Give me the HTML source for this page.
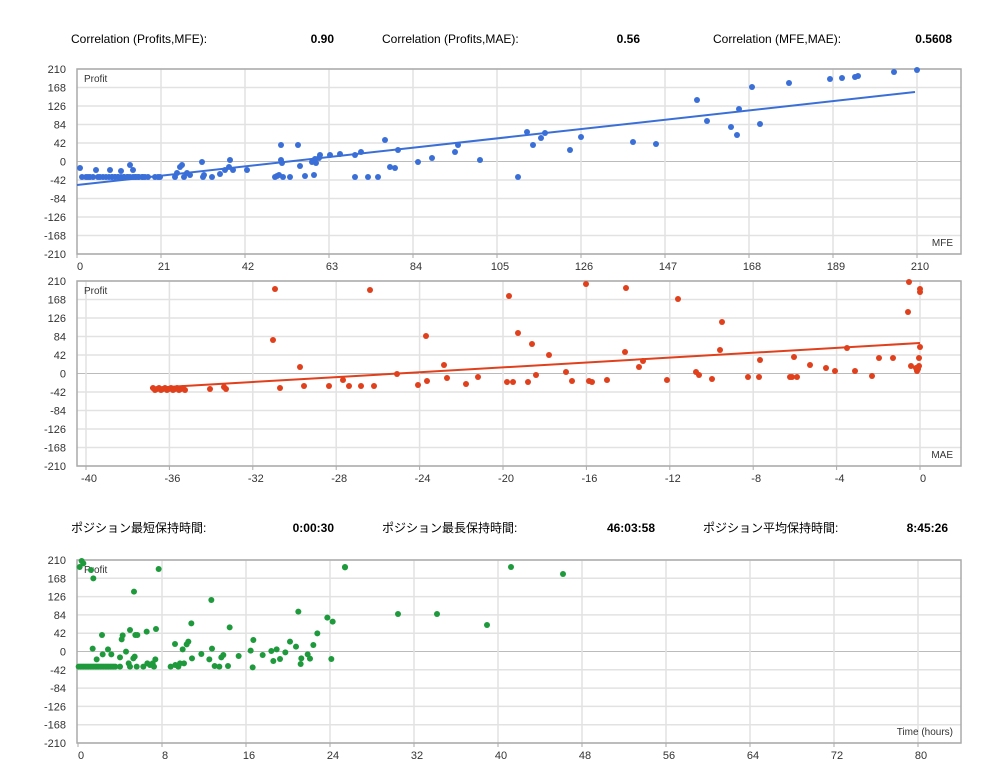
<!DOCTYPE html>
<html><head><meta charset="utf-8"><style>
body{margin:0;background:#fff;width:1007px;height:776px;overflow:hidden;font-family:"Liberation Sans","Noto Sans CJK JP",sans-serif}
svg text{font-family:"Liberation Sans","Noto Sans CJK JP",sans-serif}
</style></head><body>
<svg id="s" width="1007" height="776" xmlns="http://www.w3.org/2000/svg">
<g font-size="12" fill="#000">
<text x="71" y="43">Correlation (Profits,MFE):</text><text x="334" y="43" text-anchor="end" font-weight="bold">0.90</text>
<text x="382" y="43">Correlation (Profits,MAE):</text><text x="640" y="43" text-anchor="end" font-weight="bold">0.56</text>
<text x="713" y="43">Correlation (MFE,MAE):</text><text x="952" y="43" text-anchor="end" font-weight="bold">0.5608</text>
<text x="71" y="532">ポジション最短保持時間:</text><text x="334" y="532" text-anchor="end" font-weight="bold">0:00:30</text>
<text x="382" y="532">ポジション最長保持時間:</text><text x="655" y="532" text-anchor="end" font-weight="bold">46:03:58</text>
<text x="703" y="532">ポジション平均保持時間:</text><text x="948" y="532" text-anchor="end" font-weight="bold">8:45:26</text>
</g>
</svg>
<script>
const S=document.getElementById('s');let h='';
function chart(top,bot,x0,step,xl,lab,xt){
 const L=77,R=961;
 for(let i=0;i<=10;i++){const y=top+(bot-top)*i/10;h+=`<line x1="${L}" x2="${R}" y1="${y}" y2="${y}" stroke="${i==5?'#bbb':'#e2e2e2'}" stroke-width="${i==5?1:1.5}"/>`;
 h+=`<text x="${L-11}" y="${y+4}" font-size="11" fill="#333" text-anchor="end">${210-42*i}</text>`;}
 xl.forEach((t,i)=>{const x=x0+step*i;if(x>L+2)h+=`<line x1="${x}" x2="${x}" y1="${top}" y2="${bot}" stroke="#e2e2e2" stroke-width="1.5"/>`;
 h+=`<line x1="${x}" x2="${x}" y1="${bot}" y2="${bot+4}" stroke="#aaa"/><text x="${x+3}" y="${bot+16}" font-size="11" fill="#333" text-anchor="middle">${t}</text>`;});
 h+=`<rect x="${L}" y="${top}" width="${R-L}" height="${bot-top}" fill="none" stroke="#aaa" stroke-width="1.5"/>`;
 h+=`<text x="84" y="${top+13}" font-size="10" fill="#333">Profit</text><text x="953" y="${bot-8}" font-size="10" fill="#333" text-anchor="end">${lab}</text>`;
}
function dots(p,c){p.forEach(q=>h+=`<circle cx="${q[0]}" cy="${q[1]}" r="3" fill="${c}"/>`);}
chart(69,254,77,84,[0,21,42,63,84,105,126,147,168,189,210],'MFE');
chart(281,466,86,83.4,[-40,-36,-32,-28,-24,-20,-16,-12,-8,-4,0],'MAE');
chart(560,743,78,84,[0,8,16,24,32,40,48,56,64,72,80],'Time (hours)');
let b=[[80,168],[82,177],[86,177],[90,177],[93,177],[96,170],[98,177],[88,177],[110,170],[112,177],[115,177],[118,177],[121,171],[124,177],[128,177],[130,165],[133,170],[135,177],[138,177],[143,177],[155,177],[160,177],[158,177],[175,177],[177,173],[180,167],[182,165],[184,177],[187,173],[190,175],[202,162],[203,177],[204,175],[212,177],[220,174],[225,170],[229,167],[230,160],[233,170],[247,170],[275,177],[277,176],[279,175],[281,145],[281,160],[282,163],[283,177],[290,177],[298,145],[300,166],[305,176],[312,162],[315,159],[314,175],[316,163],[319,158],[320,155],[330,155],[340,154],[355,177],[355,155],[361,152],[368,177],[378,177],[385,140],[390,167],[395,168],[398,150],[418,162],[432,158],[455,152],[458,145],[480,160],[518,177],[527,132],[533,145],[541,138],[545,133],[570,150],[581,137],[633,142],[656,144],[697,100],[707,121],[731,127],[737,135],[739,109],[752,87],[760,124],[789,83],[830,79],[842,78],[855,77],[858,76],[894,72],[917,70]];
for(let x=100;x<150;x+=3)b.push([x,177]);
h+=`<line x1="77" y1="185" x2="915" y2="92" stroke="#3a6fd8" stroke-width="2"/>`;dots(b,'#3a6fd8');
let r=[[210,389],[224,387],[226,389],[273,340],[275,289],[280,388],[300,367],[304,386],[329,386],[343,380],[349,386],[361,386],[370,290],[374,386],[397,374],[418,385],[426,336],[427,381],[444,365],[447,378],[466,384],[478,377],[507,382],[509,296],[513,382],[518,333],[528,382],[532,344],[536,375],[549,355],[566,372],[572,381],[586,284],[589,381],[592,382],[607,380],[625,352],[626,288],[639,367],[643,361],[678,299],[667,380],[696,372],[699,375],[712,379],[720,350],[722,322],[748,377],[759,377],[760,360],[790,377],[792,377],[794,357],[797,377],[810,365],[826,368],[835,371],[847,348],[855,371],[872,376],[879,358],[893,358],[908,312],[909,282],[911,366],[916,368],[917,371],[918,369],[919,366],[920,289],[920,292],[920,347],[919,358]];
for(let x=153;x<186;x+=2)r.push([x,388+(x%3)]);
h+=`<line x1="150" y1="388" x2="920" y2="343" stroke="#e0401c" stroke-width="2"/>`;dots(r,'#e0401c');
let gz=[[149,51],[155,33],[160,40],[183,60],[190,85],[188,296],[200,328],[216,255],[218,313],[234,298],[244,313],[270,322],[275,268],[278,256],[288,305],[296,340],[300,240],[310,325],[312,125],[314,320],[316,255],[322,255],[350,245],[352,340],[360,345],[368,340],[376,328],[378,237],[386,57],[422,350],[435,282],[436,345],[445,350],[450,340],[458,298],[462,340],[470,283],[475,275],[484,220],[486,325],[514,312],[538,328],[544,150],[546,296],[554,348],[568,350],[574,322],[580,315],[594,348],[599,232],[626,318],[662,302],[668,352],[670,270],[698,315],[724,303],[730,333],[740,298],[750,327],[766,307],[780,275],[798,290],[805,185],[812,342],[814,325],[833,313],[840,326],[850,285],[862,250],[892,203],[904,327],[908,215],[945,52],[270,350],[300,350],[320,350],[340,350],[372,350]];
for(let x=146;x<260;x+=5)gz.push([x,350]);
let g=gz.map(q=>[30+q[0]/3,550+q[1]/3]).concat([[345,567],[398,614],[437,614],[487,625],[511,567],[563,574]]);
dots(g,'#1e9a3c');
S.insertAdjacentHTML('beforeend',h);
</script>
</body></html>
